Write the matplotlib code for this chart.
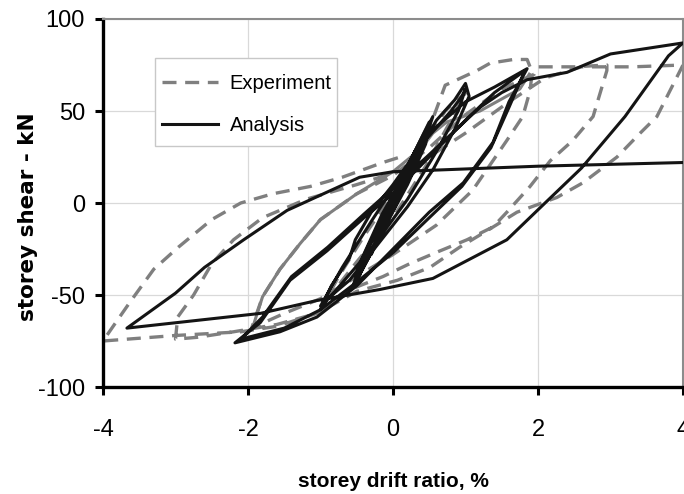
import matplotlib
matplotlib.use("Agg")
import matplotlib.pyplot as plt
from matplotlib.patches import Rectangle

plt.rcParams["axes.unicode_minus"] = False

# ---------------- data ----------------
exp_x = [0, 0.25, 0.5, 0.3, 0, -0.25, -0.5, -0.3, 0,
         0.4, 0.72, 1.0, 0.8, 0.45, 0, -0.5, -0.9, -1.0, -0.75, -0.4, 0,
         0.45, 0.72, 1.16, 1.34, 1.66, 1.85, 1.92, 1.89, 1.79, 1.57, 1.1, 0.6, 0, -0.5, -1.0, -1.5, -1.95,
         -1.8, -1.56, -1.28, -1.0, -0.5, 0, 0.5, 1.0, 1.5, 1.95, 2.0,
         2.5, 2.95, 2.95, 2.76, 2.48, 2.17, 1.89, 1.57, 1.38, 1.02, 0.65, 0.23, -0.14, -0.59, -1.05, -1.6, -2.2, -2.7, -3.0,
         -2.97, -2.75, -2.5, -2.2, -1.8, -1.2, -0.5, 0.3, 1.0, 1.6, 2.1, 2.6, 3.3, 4.0,
         3.64, 3.41, 3.09, 2.62, 2.26, 1.71, 1.3, 0.92, 0.51, 0.06, -0.5, -1.05, -1.6, -2.1, -3.0, -4.0,
         -3.86, -3.63, -3.3, -2.96, -2.5, -2.1, -1.66, -1.14, -0.7, -0.14, 0.1]
exp_y = [0, 20, 38, 22, 0, -20, -36, -20, 2,
         30, 50, 60, 45, 20, -8, -32, -52, -58, -40, -18, 5,
         35, 64, 72, 76, 78, 78, 71, 61, 47, 34, 7, -12, -28, -40, -52, -60, -68,
         -51, -36, -22, -9, 5, 15, 30, 48, 62, 70, 74,
         74, 75, 72, 47, 34, 23, 9, -5, -13, -20, -26, -33, -40, -47, -60, -66, -70, -73, -74,
         -62, -50, -33, -20, -8, 2, 10, 20, 38, 55, 68, 74, 74, 75,
         47, 38, 25, 11, 3, -5, -15, -24, -35, -42, -48, -60, -67, -70, -72, -75,
         -67, -54, -36, -24, -9, 0, 5, 9, 14, 22, 25]

# densely sampled experiment branches (appear solid)
expd_x = [0, 0.2, 0.35, 0.25, 0, -0.2, -0.35, -0.2, 0, 0.3, 0.55, 0.74, 1.2, 1.75, 1.88]
expd_y = [0, 15, 28, 18, -2, -15, -27, -14, 3, 25, 38, 44, 50, 62, 70]
expd2_x = [-1.93, -1.8, -1.56, -1.28, -1.0, -0.5, 0, 0.4]
expd2_y = [-67, -51, -36, -22, -9, 5, 17, 30]

ana_x = [0, 0.15, 0.3, 0.2, 0, -0.15, -0.3, -0.2, 0,
         0.25, 0.5, 0.45, 0.2, -0.1, -0.35, -0.5, -0.4, -0.1,
         0.2, 0.5, 0.45, 0.15, -0.15, -0.5, -0.42, -0.1,
         0.25, 0.55, 0.4, 0.1, -0.2, -0.55, -0.45, -0.15,
         0.3, 0.6, 0.85, 1.0, 1.05, 0.85, 0.55, 0.2, -0.2, -0.6, -0.9, -1.0, -0.85, -0.6, -0.52, -0.3, 0,
         0.4, 0.8, 0.95, 1.0, 0.9, 0.6, 0.2, -0.3, -0.8, -1.0, -0.7, -0.3, 0,
         0.5, 1.0, 1.4, 1.85, 1.6, 1.38, 0.97, 0.5, 0.0, -0.5, -1.05, -1.56, -2.18,
         -1.83, -1.42, -0.91, -0.4, 0, 0.5, 1.0, 1.4, 1.82, 1.6, 1.35, 0.95, 0.5, 0, -0.5, -1.0, -1.5, -2.1,
         -1.8, -1.4, -0.9, -0.4, 0, 0.6, 1.2, 1.5, 1.85,
         2.4, 3.0, 4.0, 3.8, 3.6, 3.2, 2.6, 2.15, 1.57, 0.55, -0.18, -1.05, -1.83, -3.67,
         -3.0, -2.6, -2.06, -1.46, -0.46, 0, 2.0, 4.0]
ana_y = [0, 14, 28, 15, 0, -14, -28, -15, 0,
         22, 42, 32, 10, -12, -30, -42, -30, -5,
         20, 44, 34, 8, -16, -42, -30, -4,
         24, 47, 30, 5, -20, -45, -32, -6,
         25, 45, 56, 65, 58, 40, 18, -2, -22, -42, -52, -58, -45, -30, -20, -5, 10,
         32, 50, 58, 62, 50, 28, 2, -25, -48, -56, -35, -10, 8,
         38, 55, 63, 73, 55, 33, 11, -5, -25, -45, -62, -70, -76,
         -65, -42, -26, -8, 5, 25, 45, 60, 72, 52, 30, 9, -8, -27, -43, -58, -68, -74,
         -62, -40, -24, -6, 8, 30, 52, 60, 67,
         71, 81, 87, 80, 69, 47, 19, 2, -20, -41, -47, -53, -60, -68,
         -49, -35, -20, -4, 14, 17, 20, 22]

x_ticks = [-4, -2, 0, 2, 4]
y_ticks = [-100, -50, 0, 50, 100]

font = "Liberation Sans"
W, H = 684, 494

# ---------------- figure ----------------
fig = plt.figure(figsize=(6.84, 4.94), dpi=100)
ax = fig.add_axes([103/W, (H-387)/H, 580/W, 368/H])

grey = "#7f7f7f"
black = "#141414"
ax.plot(expd_x, expd_y, color=grey, lw=2.2, solid_joinstyle="round", zorder=2)
ax.plot(expd2_x, expd2_y, color=grey, lw=2.2, solid_joinstyle="round", zorder=2)
ax.plot(exp_x, exp_y, color=grey, lw=2.4, dashes=(4.2, 2.6), label="Experiment", zorder=2)
ax.plot(ana_x, ana_y, color=black, lw=2.2, solid_joinstyle="round", label="Analysis", zorder=3)

ax.set_xlim(-4, 4)
ax.set_ylim(-100, 100)
ax.set_xticks(x_ticks)
ax.set_yticks(y_ticks)
ax.grid(True, color="#d9d9d9", lw=0.9, zorder=0)
ax.set_axisbelow(True)

for s in ["left", "bottom"]:
    ax.spines[s].set_color("black")
    ax.spines[s].set_linewidth(2.4)
for s in ["top", "right"]:
    ax.spines[s].set_color("#8c8c8c")
    ax.spines[s].set_linewidth(1.5)

ax.tick_params(axis="both", direction="out", length=6, width=2.2, color="black")
ax.tick_params(axis="x", pad=17)
ax.tick_params(axis="y", pad=7)
for lab in ax.get_xticklabels() + ax.get_yticklabels():
    lab.set_fontfamily(font)
    lab.set_fontsize(17)

fig.text(393/W, 1 - 481/H, "storey drift ratio, %", family=font, weight="bold",
         fontsize=15, ha="center", va="center")
fig.text(28/W, 1 - 217/H, "storey shear - kN", family="DejaVu Sans", weight="bold",
         fontsize=15.5, ha="center", va="center", rotation=90)

# legend frame drawn separately (padding differs horizontally / vertically)
frame = Rectangle((155/W, 1 - 146/H), (337-155)/W, (146-58)/H, transform=fig.transFigure,
                  facecolor="white", edgecolor="#c8c8c8", lw=1.0, zorder=4, clip_on=False)
ax.add_patch(frame)
leg = ax.legend(loc="upper left", bbox_to_anchor=((155-103)/580, 1 - (67-19)/368),
                frameon=False, prop={"family": font, "size": 14.5}, handlelength=2.8,
                handletextpad=0.55, labelspacing=1.15, borderpad=0.35, borderaxespad=0)
leg.set_zorder(6)

fig.savefig("out.png", dpi=100)
